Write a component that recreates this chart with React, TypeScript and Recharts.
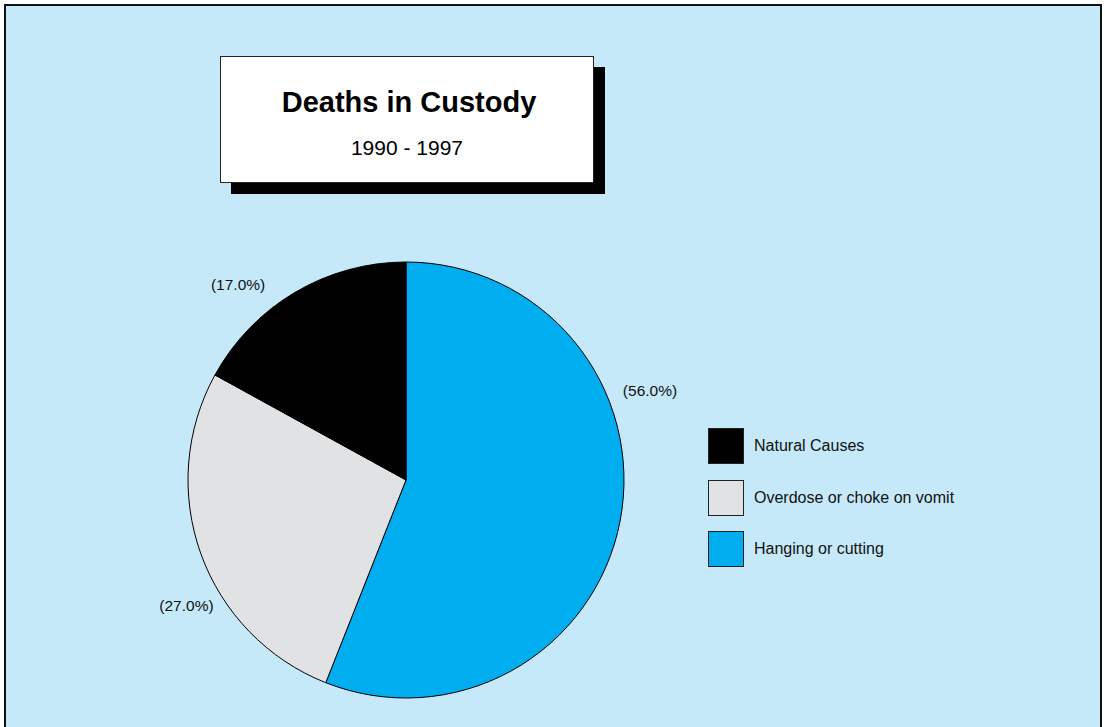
import { PieChart, Pie, Cell } from 'recharts';

// Deaths in custody, 1990 - 1997 (share of total, %)
const causes = ['Hanging or cutting', 'Overdose or choke on vomit', 'Natural Causes'];
const shares = [56.0, 27.0, 17.0];
const colors = ['#00aeef', '#e1e2e4', '#000000'];
const legendOrder = ['Natural Causes', 'Overdose or choke on vomit', 'Hanging or cutting'];

const FONT = '"Liberation Sans", Arial, Helvetica, sans-serif';
const BG = '#c6e9f9';

// labels sit a little off the slice middle, as in the original
const labelShift = [31, 10, 10];
const labelRadius = [260, 253, 258];

const data = causes.map((name, i) => ({ name, value: shares[i], color: colors[i] }));

const RADIAN = Math.PI / 180;

function renderLabel(props: any) {
  const { cx, cy, midAngle, index, value } = props;
  const a = (midAngle + labelShift[index]) * RADIAN;
  const x = cx + labelRadius[index] * Math.cos(a);
  const y = cy - labelRadius[index] * Math.sin(a);
  return (
    <text
      x={x}
      y={y}
      textAnchor="middle"
      dominantBaseline="central"
      fill="#111"
      fontSize={15.5}
      fontFamily={FONT}
    >
      {`(${Number(value).toFixed(1)}%)`}
    </text>
  );
}

function LegendBox() {
  return (
    <div style={{ fontFamily: FONT }}>
      {legendOrder.map((name) => {
        const d = data.find((x) => x.name === name)!;
        return (
          <div
            key={name}
            style={{ display: 'flex', alignItems: 'center', height: 36, marginBottom: 15.5 }}
          >
            <div
              style={{
                width: 34,
                height: 34,
                background: d.color,
                border: '1px solid #222',
              }}
            />
            <span style={{ marginLeft: 10, fontSize: 16, color: '#111' }}>{name}</span>
          </div>
        );
      })}
    </div>
  );
}

export default function App() {
  return (
    <div
      style={{
        position: 'absolute',
        left: 0,
        top: 0,
        width: 1105,
        height: 727,
        overflow: 'hidden',
        fontFamily: FONT,
      }}
    >
      {/* panel */}
      <div
        style={{
          position: 'absolute',
          left: 4,
          top: 4,
          width: 1094,
          height: 760,
          background: BG,
          border: '2px solid #111',
        }}
      />

      {/* title box with drop shadow */}
      <div
        style={{
          position: 'absolute',
          left: 231,
          top: 67,
          width: 374,
          height: 127,
          background: '#000',
        }}
      />
      <div
        style={{
          position: 'absolute',
          left: 220,
          top: 56,
          width: 372,
          height: 125,
          background: '#fff',
          border: '1px solid #222',
          textAlign: 'center',
        }}
      >
        <div style={{ marginTop: 29, marginLeft: 4, fontSize: 29, fontWeight: 700, color: '#000' }}>
          Deaths in Custody
        </div>
        <div style={{ marginTop: 17, fontSize: 21, color: '#000' }}>1990 - 1997</div>
      </div>

      <div style={{ position: 'absolute', left: 0, top: 0 }}>
        <PieChart width={1105} height={727} margin={{ top: 0, right: 0, bottom: 0, left: 0 }}>
          <Pie
            data={data}
            dataKey="value"
            nameKey="name"
            cx={406}
            cy={480}
            outerRadius={218}
            startAngle={90}
            endAngle={-270}
            stroke="#000"
            strokeWidth={1}
            label={renderLabel}
            labelLine={false}
            isAnimationActive={false}
          >
            {data.map((d) => (
              <Cell key={d.name} fill={d.color} />
            ))}
          </Pie>
        </PieChart>
      </div>

      <div style={{ position: 'absolute', left: 708, top: 428, width: 320 }}>
        <LegendBox />
      </div>
    </div>
  );
}
